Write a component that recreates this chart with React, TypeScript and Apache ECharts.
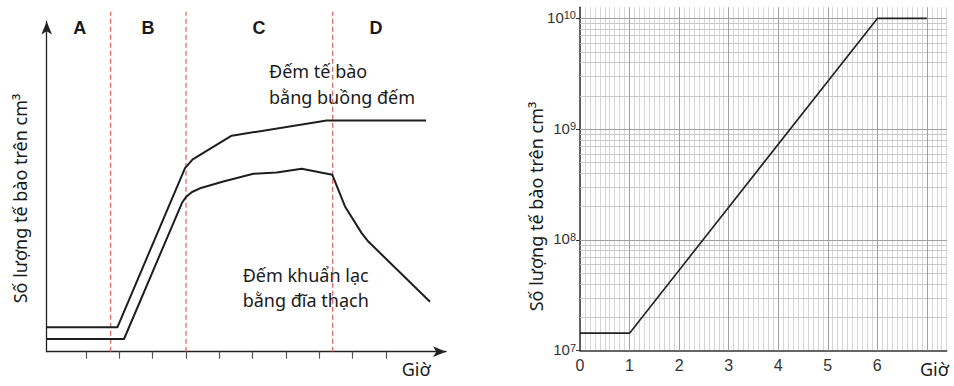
import React, { useEffect, useRef } from 'react';
import * as echarts from 'echarts';

// ---------- Left panel: schematic growth curve (arbitrary units) ----------
const phaseNames = ['A', 'B', 'C', 'D'];
const phaseBoundaries = [1.74, 4.0, 8.4];
const axisTickValues = [1, 2, 3, 4, 5, 6, 7, 8, 9, 10];

const chamberCountX = [-0.18, 1.94, 3.97, 4.2, 5.37, 8.22, 11.2];
const chamberCountY = [7.25, 7.25, 54.5, 57.1, 64.1, 68.6, 68.6];

const plateCountX = [-0.18, 2.14, 3.88, 4.0, 4.18, 4.42, 5.12, 6.02, 6.72, 7.47, 8.39, 8.77, 9.27, 9.47, 11.32];
const plateCountY = [3.77, 3.77, 44.2, 45.9, 47.4, 48.5, 50.5, 52.8, 53.2, 54.3, 52.5, 43.1, 35.2, 32.7, 14.8];

// ---------- Right panel: log-scale growth ----------
const hours = [0, 1, 6, 7];
const cellsPerCm3 = [1.44e7, 1.44e7, 1e10, 1e10];
const hourLabels = [0, 1, 2, 3, 4, 5, 6];
const majorHourLines = [1, 2, 3, 4, 5, 6, 7];
const decades = [1e7, 1e8, 1e9, 1e10];
const minorMultipliers = [2, 3, 4, 5, 6, 7, 8, 9];

const TEXT = '#1a1a1a';
const SANS = '"Noto Sans", sans-serif';
const ARIAL = '"Liberation Sans", Arial, sans-serif';

export default function App() {
  const ref = useRef<HTMLDivElement>(null);

  useEffect(() => {
    if (!ref.current) return;
    const chart = echarts.init(ref.current, undefined, { renderer: 'svg' });

    const zip = (xs: number[], ys: number[]) => xs.map((x, i) => [x, ys[i]]);

    const minorY: any[] = [];
    decades.slice(0, 3).forEach((d) => {
      minorMultipliers.forEach((m) => minorY.push({ yAxis: d * m }));
    });
    const majorY = decades.slice(1).map((d) => ({ yAxis: d }));
    const majorX = majorHourLines.map((h) => ({ xAxis: h }));

    const arrowLine = {
      show: true,
      onZero: false,
      symbol: ['none', 'arrow'],
      symbolSize: [8, 13],
      lineStyle: { color: '#222', width: 1.3 },
    };

    const option: any = {
      animation: false,
      backgroundColor: '#ffffff',
      grid: [
        { left: 46.7, top: 21.5, width: 399.3, height: 330.2 },
        { left: 580, top: 7.3, width: 366.7, height: 343.4 },
        { left: 580, top: 18.3, width: 366.7, height: 332.4 },
      ],
      xAxis: [
        {
          gridIndex: 0,
          type: 'value',
          min: -0.18,
          max: 11.8,
          axisLine: arrowLine,
          axisTick: {
            show: true,
            customValues: axisTickValues,
            length: 7,
            lineStyle: { color: '#555', width: 1.2 },
          },
          axisLabel: { show: false },
          splitLine: { show: false },
        },
        {
          gridIndex: 1,
          type: 'value',
          min: 0,
          max: 7.4,
          interval: 0.1,
          axisLine: { show: true, onZero: false, lineStyle: { color: '#333', width: 1.5 } },
          axisTick: { show: false },
          axisLabel: {
            interval: 0,
            margin: 7,
            fontSize: 16,
            fontFamily: ARIAL,
            color: '#333',
            formatter: (v: number) => {
              const r = Math.round(v);
              return Math.abs(v - r) < 1e-6 && hourLabels.includes(r) ? String(r) : '';
            },
          },
          splitLine: { show: true, lineStyle: { color: '#d6d6d6', width: 1 } },
        },
        { gridIndex: 2, type: 'value', min: 0, max: 1, show: false },
      ],
      yAxis: [
        {
          gridIndex: 0,
          type: 'value',
          min: 0,
          max: 98,
          axisLine: arrowLine,
          axisTick: { show: false },
          axisLabel: { show: false },
          splitLine: { show: false },
        },
        {
          gridIndex: 1,
          type: 'log',
          logBase: 10,
          min: 1e7,
          max: 1.26e10,
          axisLine: { show: true, onZero: false, lineStyle: { color: '#333', width: 1.5 } },
          axisTick: { show: false },
          axisLabel: { show: false },
          splitLine: { show: false },
        },
        {
          gridIndex: 2,
          type: 'log',
          logBase: 10,
          min: 1e7,
          max: 1e10,
          axisLine: { show: false },
          axisTick: { show: true, length: 4, lineStyle: { color: '#333', width: 1 } },
          axisLabel: {
            margin: 4,
            formatter: (v: number) => `{b|10}{s|${Math.round(Math.log10(v))}}`,
            rich: {
              b: {
                fontSize: 15,
                fontFamily: ARIAL,
                color: '#333',
                lineHeight: 17,
                padding: [0, 0, 2, 0],
                verticalAlign: 'bottom',
              },
              s: {
                fontSize: 11,
                fontFamily: ARIAL,
                color: '#333',
                lineHeight: 11,
                padding: [0, 0, 10, 0],
                verticalAlign: 'top',
              },
            },
          },
          splitLine: { show: false },
        },
      ],
      series: [
        {
          name: 'chamber',
          type: 'line',
          xAxisIndex: 0,
          yAxisIndex: 0,
          data: zip(chamberCountX, chamberCountY),
          symbol: 'none',
          lineStyle: { color: '#1e1e1e', width: 2 },
          z: 5,
        },
        {
          name: 'plate',
          type: 'line',
          xAxisIndex: 0,
          yAxisIndex: 0,
          data: zip(plateCountX, plateCountY),
          symbol: 'none',
          lineStyle: { color: '#1e1e1e', width: 2 },
          z: 5,
        },
        ...phaseBoundaries.map((b) => ({
          type: 'line',
          xAxisIndex: 0,
          yAxisIndex: 0,
          data: [
            [b, 0],
            [b, 100.9],
          ],
          clip: false,
          symbol: 'none',
          lineStyle: { color: '#d9605a', width: 1.2, type: [5, 3] },
          z: 3,
        })),
        {
          name: 'grid-lines',
          type: 'line',
          xAxisIndex: 1,
          yAxisIndex: 1,
          data: [],
          markLine: {
            silent: true,
            symbol: ['none', 'none'],
            animation: false,
            label: { show: false },
            z: 1,
            data: [
              ...minorY.map((d) => ({ ...d, lineStyle: { color: '#c8c8c8', width: 1, type: 'solid' } })),
              ...majorY.map((d) => ({ ...d, lineStyle: { color: '#a0a0a0', width: 1, type: 'solid' } })),
              ...majorX.map((d) => ({ ...d, lineStyle: { color: '#a0a0a0', width: 1, type: 'solid' } })),
            ],
          },
        },
        {
          name: 'cells',
          type: 'line',
          xAxisIndex: 1,
          yAxisIndex: 1,
          data: zip(hours, cellsPerCm3),
          symbol: 'none',
          lineStyle: { color: '#222', width: 1.6 },
          z: 6,
        },
      ],
      graphic: [
        ...phaseNames.map((n, i) => ({
          type: 'text',
          x: [79.7, 148, 259, 376][i],
          y: 28,
          style: {
            text: n,
            font: `bold 18px ${ARIAL}`,
            fill: TEXT,
            align: 'center',
            verticalAlign: 'middle',
          },
        })),
        {
          type: 'text',
          x: 20,
          y: 198.5,
          rotation: Math.PI / 2,
          style: {
            text: 'Số lượng tế bào trên cm³',
            font: `18px ${SANS}`,
            fill: TEXT,
            align: 'center',
            verticalAlign: 'middle',
          },
        },
        {
          type: 'text',
          x: 535.5,
          y: 206.5,
          rotation: Math.PI / 2,
          style: {
            text: 'Số lượng tế bào trên cm³',
            font: `18px ${SANS}`,
            fill: TEXT,
            align: 'center',
            verticalAlign: 'middle',
          },
        },
        {
          type: 'text',
          x: 269,
          y: 71,
          style: { text: 'Đếm tế bào', font: `18px ${SANS}`, fill: TEXT, align: 'left', verticalAlign: 'middle' },
        },
        {
          type: 'text',
          x: 269,
          y: 96.7,
          style: { text: 'bằng buồng đếm', font: `18px ${SANS}`, fill: TEXT, align: 'left', verticalAlign: 'middle' },
        },
        {
          type: 'text',
          x: 242.7,
          y: 275,
          style: { text: 'Đếm khuẩn lạc', font: `18px ${SANS}`, fill: TEXT, align: 'left', verticalAlign: 'middle' },
        },
        {
          type: 'text',
          x: 242.7,
          y: 300,
          style: { text: 'bằng đĩa thạch', font: `18px ${SANS}`, fill: TEXT, align: 'left', verticalAlign: 'middle' },
        },
        {
          type: 'text',
          x: 401.7,
          y: 369,
          style: { text: 'Giờ', font: `18px ${SANS}`, fill: TEXT, align: 'left', verticalAlign: 'middle' },
        },
        {
          type: 'text',
          x: 920,
          y: 369,
          style: { text: 'Giờ', font: `18px ${SANS}`, fill: TEXT, align: 'left', verticalAlign: 'middle' },
        },
      ],
    };

    chart.setOption(option);
    return () => chart.dispose();
  }, []);

  return (
    <div
      ref={ref}
      style={{ position: 'absolute', left: 0, top: 0, width: 954, height: 386, background: '#fff' }}
    />
  );
}
